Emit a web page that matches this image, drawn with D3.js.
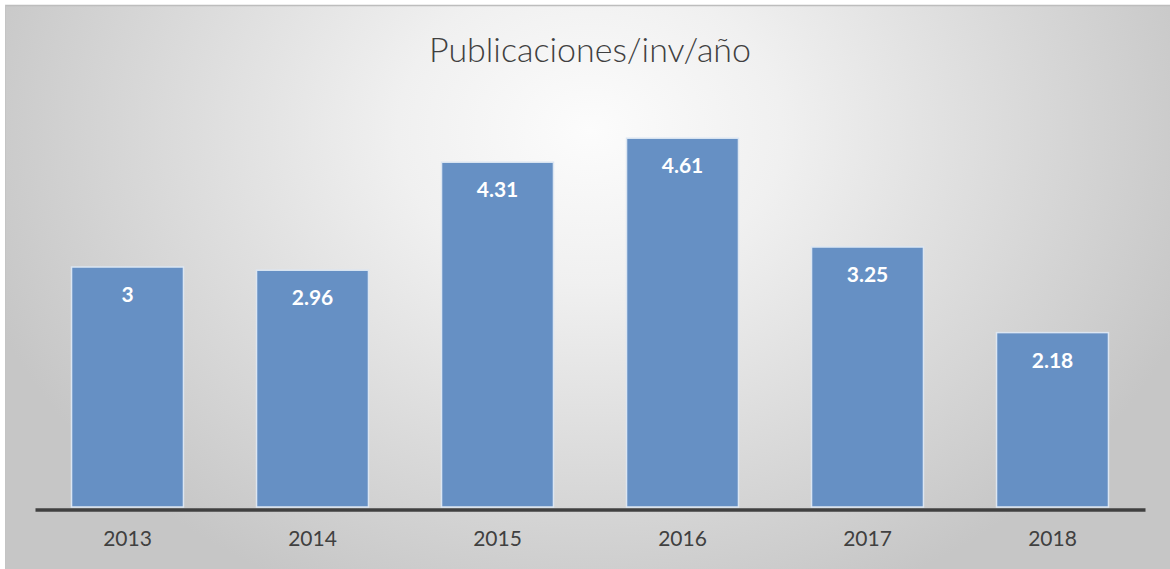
<!DOCTYPE html>
<html><head><meta charset="utf-8">
<script src="https://cdn.jsdelivr.net/npm/d3@7"></script>
<style>html,body{margin:0;padding:0;background:#fff;}svg{display:block;}</style>
</head><body>
<svg id="c" width="1170" height="569"></svg>
<script>
const title = "Publicaciones/inv/año";
const categories = ["2013","2014","2015","2016","2017","2018"];
const values = [3, 2.96, 4.31, 4.61, 3.25, 2.18];
const valueLabels = ["3","2.96","4.31","4.61","3.25","2.18"];

const W = 1170, H = 569;
const svg = d3.select("#c");
const defs = svg.append("defs");
const rg = defs.append("radialGradient").attr("id","bg")
  .attr("gradientUnits","userSpaceOnUse")
  .attr("cx",590).attr("cy",130).attr("r",640)
  .attr("gradientTransform","translate(590,130) scale(1,0.8) translate(-590,-130)");
rg.append("stop").attr("offset","0").attr("stop-color","#fcfcfc");
rg.append("stop").attr("offset","0.3").attr("stop-color","#f0f0f0");
rg.append("stop").attr("offset","1").attr("stop-color","#c6c6c6");

svg.append("rect").attr("x",5).attr("y",5).attr("width",W-5).attr("height",H-5).attr("fill","url(#bg)");
svg.append("line").attr("x1",5).attr("x2",W).attr("y1",5.5).attr("y2",5.5).attr("stroke","#bdbdbd").attr("stroke-width",1.5);
svg.append("line").attr("x1",5.5).attr("x2",5.5).attr("y1",5).attr("y2",H).attr("stroke","#c4c4c4").attr("stroke-width",1);

const x = d3.scaleBand().domain(categories).range([35,1145]).paddingInner(0.395).paddingOuter(0.1975);
const y = d3.scaleLinear().domain([0,5]).range([507,107]);

svg.append("text").attr("x",590).attr("y",62).attr("text-anchor","middle")
  .attr("font-family","Lato, 'Open Sans', sans-serif").attr("font-weight",300).attr("font-size",34).attr("fill","#404040")
  .text(title);

const g = svg.append("g");
g.selectAll("rect.bar").data(values).join("rect").attr("class","bar")
  .attr("x",(d,i)=>x(categories[i])).attr("width",x.bandwidth())
  .attr("y",d=>y(d)).attr("height",d=>y(0)-y(d))
  .attr("fill","#6690c4").attr("stroke","#dce6f2").attr("stroke-width",1.5);

g.selectAll("text.val").data(values).join("text").attr("class","val")
  .attr("x",(d,i)=>x(categories[i])+x.bandwidth()/2).attr("y",d=>y(d)+35)
  .attr("text-anchor","middle").attr("font-family","Lato, 'Open Sans', sans-serif")
  .attr("font-weight","bold").attr("font-size",21).attr("fill","#ffffff")
  .text((d,i)=>valueLabels[i]);

const axis = d3.axisBottom(x).tickSize(0).tickPadding(22);
const ax = svg.append("g").attr("transform","translate(0,509.5)").call(axis);
ax.select(".domain").attr("stroke","#404040").attr("stroke-width",3.5);
ax.selectAll(".tick text").attr("font-family","Lato, 'Open Sans', sans-serif").attr("font-size",21).attr("fill","#404040");
</script>
</body></html>
